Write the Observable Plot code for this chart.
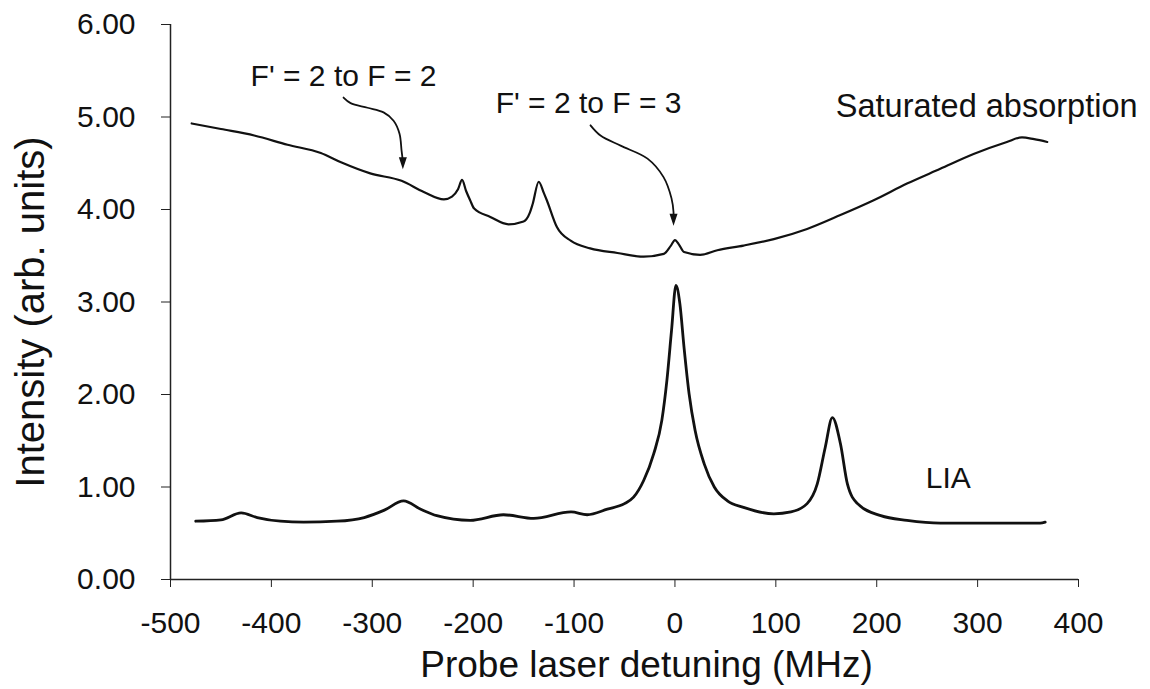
<!DOCTYPE html>
<html>
<head>
<meta charset="utf-8">
<script src="https://cdn.jsdelivr.net/npm/d3@7"></script>
<script src="https://cdn.jsdelivr.net/npm/@observablehq/plot@0.6"></script>
<style>
  html, body { margin: 0; padding: 0; background: #fff; }
  #chart { width: 1150px; height: 689px; }
</style>
</head>
<body>
<div id="chart"></div>
<script>
// ---- Data ----
// Saturated absorption trace (detuning MHz, intensity)
const satX = [-479,-450,-417,-384,-351,-331,-302,-271,-249,-229,-221,-215,-211,-207,-203,-199,-183,-165,-150,-144,-141,-135,-130,-127,-117,-103,-84,-57,-31,-11,-4,0,4,9,25,42,68,98,131,164,197,230,263,296,329,344,356,369];
const satY = [4.93,4.87,4.80,4.70,4.61,4.51,4.39,4.31,4.19,4.11,4.14,4.22,4.32,4.20,4.10,4.01,3.92,3.84,3.87,3.96,4.06,4.30,4.18,4.10,3.81,3.66,3.58,3.53,3.49,3.52,3.61,3.67,3.62,3.54,3.51,3.56,3.61,3.68,3.79,3.94,4.10,4.28,4.44,4.60,4.73,4.78,4.76,4.73];
// Lock-in amplifier (LIA) trace
const liaX = [-475,-450,-430,-414,-391,-368,-335,-308,-288,-269,-252,-236,-203,-170,-140,-103,-87,-67,-50,-41,-31,-21,-13,-8,-3.4,1,4.9,9,14,20,29,39,52,68,98,115,131,141,149,156,164,171,181,204,230,263,313,362,367];
const liaY = [0.63,0.645,0.72,0.67,0.63,0.62,0.63,0.67,0.75,0.85,0.76,0.69,0.64,0.70,0.66,0.73,0.70,0.76,0.82,0.89,1.07,1.36,1.72,2.15,2.69,3.18,2.98,2.51,2.01,1.61,1.25,1.00,0.85,0.78,0.71,0.73,0.82,1.03,1.43,1.75,1.47,1.03,0.82,0.69,0.64,0.61,0.61,0.61,0.62];

// Axis ticks
const xTicks = [-500,-400,-300,-200,-100,0,100,200,300,400];
const yTicks = [0,1,2,3,4,5,6];

// Text labels (in data coordinates)
const labelText = ["F' = 2 to F = 2", "F' = 2 to F = 3", "Saturated absorption", "LIA"];
const labelX = [-328.5, -85.6, 309, 271];
const labelY = [5.44, 5.15, 5.11, 1.09];
const labelSize = [30, 30, 32.5, 30];

// Annotation arrows (curved path points, data coordinates)
const arrow1X = [-328.5,-321.5,-304.7,-288.8,-278.9,-273.0,-271.0,-270.0];
const arrow1Y = [5.21,5.15,5.10,5.05,4.96,4.82,4.64,4.55];
const arrow2X = [-83.7,-73.8,-53.9,-27.2,-11.3,-3.4,-1.4,-1.4];
const arrow2Y = [4.91,4.80,4.69,4.55,4.35,4.12,3.97,3.95];
const headX = [-269.7, -1.4];
const headY = [4.50, 3.89];

const xTitle = "Probe laser detuning (MHz)";
const yTitle = "Intensity (arb. units)";

// ---- Build tables ----
const sat = satX.map((x, i) => ({x, y: satY[i]}));
const lia = liaX.map((x, i) => ({x, y: liaY[i]}));
const labels = labelText.map((t, i) => ({t, x: labelX[i], y: labelY[i], s: labelSize[i]}));
const arrows = [
  ...arrow1X.map((x, i) => ({k: 1, x, y: arrow1Y[i]})),
  ...arrow2X.map((x, i) => ({k: 2, x, y: arrow2Y[i]}))
];
const heads = headX.map((x, i) => ({x, y: headY[i]}));

// narrow down-pointing triangle for arrow heads
const downTriangle = {
  draw(ctx, size) {
    const r = Math.sqrt(size / Math.PI);
    ctx.moveTo(-0.8 * r, -1.2 * r);
    ctx.lineTo(0.8 * r, -1.2 * r);
    ctx.lineTo(0, 1.2 * r);
    ctx.closePath();
  }
};

const FONT = "'Liberation Sans', Arial, Helvetica, sans-serif";

const chart = Plot.plot({
  width: 1150,
  height: 689,
  marginLeft: 170,
  marginRight: 72,
  marginTop: 24,
  marginBottom: 110,
  style: {fontFamily: FONT, background: "#fff", color: "#111"},
  x: {domain: [-500, 400]},
  y: {domain: [0, 6]},
  marks: [
    Plot.axisY({ticks: yTicks, tickFormat: d => d.toFixed(2), tickSize: 9, tickPadding: 26, fontSize: 30, label: null, stroke: "#222"}),
    Plot.axisX({ticks: xTicks, tickFormat: d => String(d), tickSize: 8, tickPadding: 24, fontSize: 30, label: null, stroke: "#222"}),
    Plot.ruleX([-500], {stroke: "#222", strokeWidth: 1.5}),
    Plot.ruleY([0], {stroke: "#222", strokeWidth: 1.5}),
    Plot.line(sat, {x: "x", y: "y", stroke: "#111", strokeWidth: 2.2, curve: "monotone-x"}),
    Plot.line(lia, {x: "x", y: "y", stroke: "#111", strokeWidth: 2.8, curve: "monotone-x"}),
    Plot.line(arrows, {x: "x", y: "y", z: "k", stroke: "#111", strokeWidth: 1.8, curve: "catmull-rom"}),
    Plot.dot(heads, {x: "x", y: "y", symbol: downTriangle, r: 5, fill: "#111", stroke: "none"}),
    Plot.text(labels, {x: "x", y: "y", text: "t", fontSize: d => d.s, fill: "#111", textAnchor: "middle", lineAnchor: "middle"}),
    Plot.text([xTitle], {frameAnchor: "bottom", text: d => d, dx: 22, dy: 86, fontSize: 37, fill: "#111", textAnchor: "middle", lineAnchor: "middle"}),
    Plot.text([yTitle], {frameAnchor: "left", text: d => d, dx: -139, dy: 10, rotate: -90, fontSize: 40, fill: "#111", textAnchor: "middle", lineAnchor: "middle"})
  ]
});
document.getElementById("chart").appendChild(chart);
</script>
</body>
</html>
